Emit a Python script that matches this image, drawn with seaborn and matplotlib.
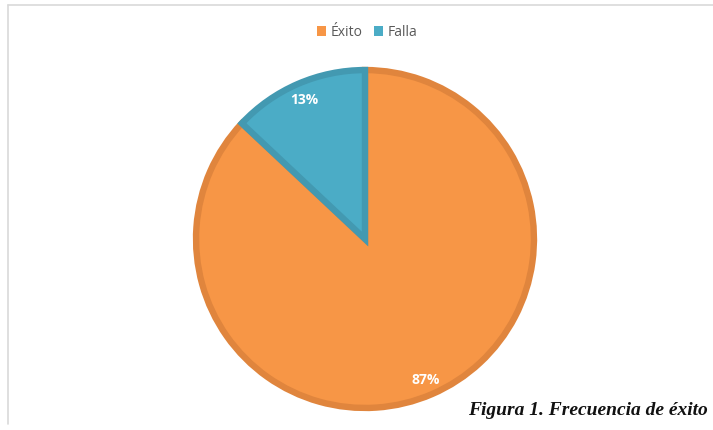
import matplotlib.pyplot as plt
import seaborn as sns
from matplotlib.lines import Line2D

sns.set_theme(style="white")

categories = ["Éxito", "Falla"]
shares = [87, 13]
fill_colors = ["#F79646", "#4BACC6"]
edge_colors = ["#E0853D", "#4399B1"]

W, H = 713, 431
fig = plt.figure(figsize=(W / 100, H / 100), dpi=100)

# chart frame (top and left lines only visible)
fig.add_artist(Line2D([8 / W, 8 / W], [1 - 425 / H, 1 - 6 / H], color="#D9D9D9", lw=1.2))
fig.add_artist(Line2D([8 / W, 1], [1 - 6 / H, 1 - 6 / H], color="#D9D9D9", lw=1.2))

cx, cy, r = 365, 240, 172
ax = fig.add_axes([(cx - r) / W, (H - cy - r) / H, 2 * r / W, 2 * r / H])

wedges, _, autotexts = ax.pie(
    shares,
    colors=fill_colors,
    startangle=90,
    counterclock=False,
    autopct="%1.0f%%",
    pctdistance=0.9,
    wedgeprops={"linewidth": 4.6},
    textprops={"color": "white", "fontsize": 10, "fontweight": "bold", "family": "Open Sans"},
)
for w, ec in zip(wedges, edge_colors):
    w.set_edgecolor(ec)
    w.set_joinstyle("miter")
ax.set_xlim(-1.018, 1.018)
ax.set_ylim(-1.018, 1.018)
ax.set_aspect("equal")
ax.axis("off")

fig.legend(
    wedges,
    categories,
    loc="center",
    bbox_to_anchor=(367 / W, 1 - 33 / H),
    ncol=2,
    frameon=False,
    handlelength=0.7,
    handleheight=0.7,
    handletextpad=0.3,
    columnspacing=0.8,
    prop={"family": "Open Sans", "size": 10},
    labelcolor="#595959",
)
for h in fig.legends[0].legend_handles:
    h.set_linewidth(0)

fig.text(
    708 / W, 1 - 411 / H,
    "Figura 1. Frecuencia de éxito",
    ha="right", va="center",
    family="Liberation Serif", style="italic", fontweight="bold", fontsize=14,
    color="#111111",
)

fig.savefig("out.png", dpi=100)
